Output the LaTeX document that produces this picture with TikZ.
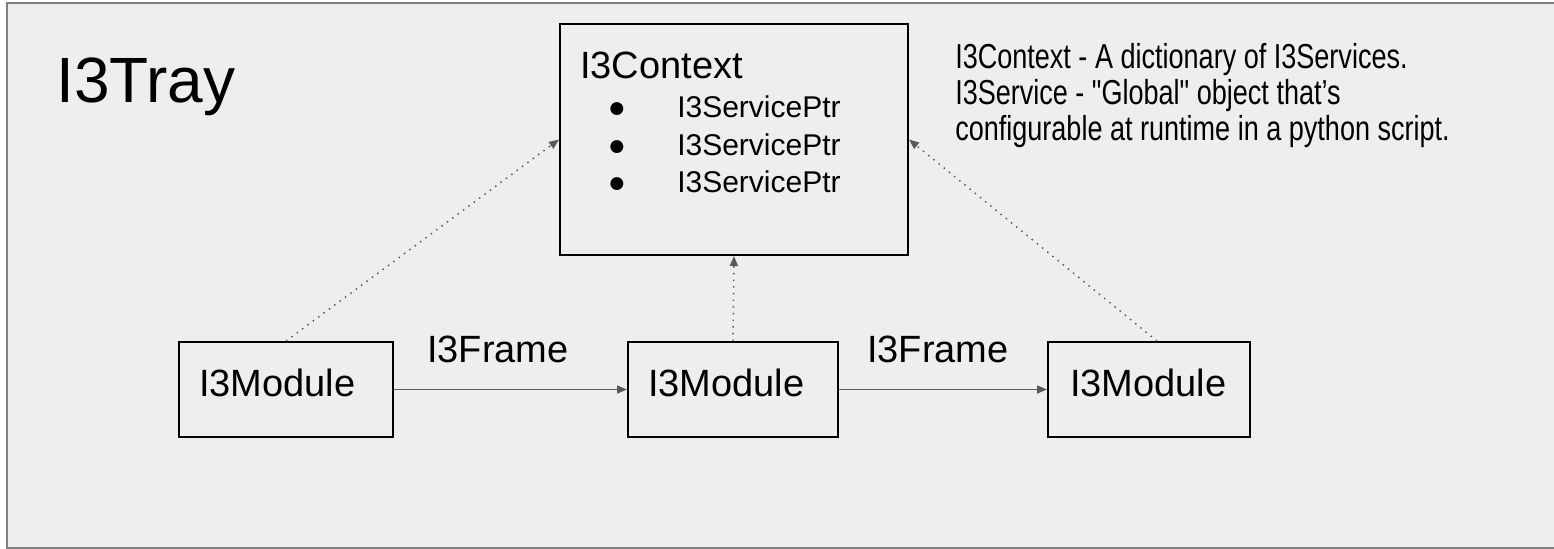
\documentclass[tikz,border=0pt]{standalone}
\usepackage{fontspec}
\setmainfont{Liberation Sans}
\newfontfamily\narrowfont{Liberation Sans}[FakeStretch=0.78]
\usetikzlibrary{arrows.meta}

\definecolor{slidebg}{HTML}{EEEEEE}
\definecolor{arrowgray}{HTML}{595959}
\definecolor{framegray}{HTML}{7F7F7F}

\tikzset{
  modbox/.style={draw=black, line width=1.5pt, align=left, minimum height=71.25pt,
    inner xsep=15pt, text depth=9.6pt, font=\fontsize{28.5}{34}\selectfont},
  flow/.style={draw=arrowgray, line width=1.1pt, -{Triangle[length=7.5pt,width=6pt]}},
  svcflow/.style={draw=arrowgray, line width=1.1pt, dash pattern=on 1.1pt off 3.9pt,
    -{Triangle[length=7.5pt,width=6pt]}},
}

\begin{document}
\begin{tikzpicture}[x=0.75pt,y=0.75pt,yscale=-1,xscale=1]
    \useasboundingbox (0,0) rectangle (1554,549);
    
    %Background and frame
    \fill[white] (0,0) rectangle (1554,549);
    \fill[slidebg] (7,3) rectangle (1554,548);
    \draw[framegray, line width=1.5pt] (1554,3) -- (7,3) -- (7,548) -- (1554,548);
    
    % Title
    \node (tray) [anchor=base west, inner sep=0pt, font=\fontsize{48}{56}\selectfont] at (56,103) {I3Tray};
    
    % Context box
    \node (ctx) [draw=black, line width=1.5pt, minimum width=261pt, minimum height=173.25pt] at (734,139.5) {};
    \node (ctxname) [anchor=base west, inner sep=0pt, font=\fontsize{28.5}{34}\selectfont] at (580,79) {I3Context};
    \node (b1) [anchor=base, inner sep=0pt, font=\fontsize{22.5}{27}\selectfont] at (617,118) {●};
    \node (b2) [anchor=base, inner sep=0pt, font=\fontsize{22.5}{27}\selectfont] at (617,156) {●};
    \node (b3) [anchor=base, inner sep=0pt, font=\fontsize{22.5}{27}\selectfont] at (617,193) {●};
    \node (ptr1) [anchor=base west, inner sep=0pt, font=\fontsize{22.5}{27}\selectfont] at (677,118) {I3ServicePtr};
    \node (ptr2) [anchor=base west, inner sep=0pt, font=\fontsize{22.5}{27}\selectfont] at (677,156) {I3ServicePtr};
    \node (ptr3) [anchor=base west, inner sep=0pt, font=\fontsize{22.5}{27}\selectfont] at (677,193) {I3ServicePtr};
    
    % Note
    \node (note) [anchor=north west, align=left, inner sep=0pt, font=\narrowfont\fontsize{26}{27}\selectfont] at (955,43)
      {I3Context - A dictionary of I3Services.\\I3Service - "Global" object that’s\\configurable at runtime in a python script.};
    
    % Modules
    \node (mod1) [modbox, text width=130.5pt] at (286,389.5) {I3Module};
    \node (mod2) [modbox, text width=127.5pt] at (733,389.5) {I3Module};
    \node (mod3) [modbox, text width=118.5pt, inner xsep=16.5pt] at (1149,389.5) {I3Module};
    
    % Frame labels
    \node (frame1) [anchor=base west, inner sep=0pt, font=\fontsize{28.5}{34}\selectfont] at (427,362) {I3Frame};
    \node (frame2) [anchor=base west, inner sep=0pt, font=\fontsize{28.5}{34}\selectfont] at (867,362) {I3Frame};
    
    % Connectors
    \draw[flow] (mod1) -- (mod2);
    \draw[flow] (mod2) -- (mod3);
    \draw[svcflow] (mod1.north) -- (ctx.west);
    \draw[svcflow] (mod2.north) -- (ctx.south);
    \draw[svcflow] ([xshift=6pt]mod3.north) -- (ctx.east);
    
\end{tikzpicture}
\end{document}
